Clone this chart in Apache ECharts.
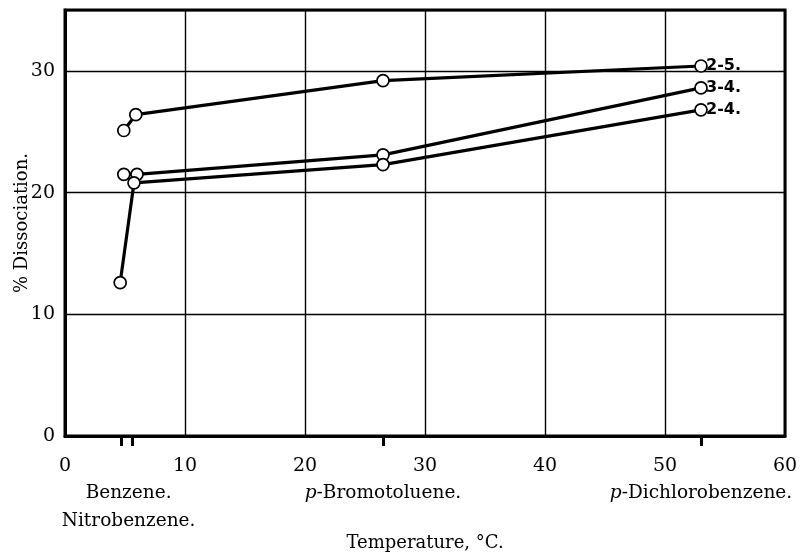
<!DOCTYPE html>
<html>
<head>
<meta charset="utf-8">
<script src="https://cdn.jsdelivr.net/npm/echarts@6/dist/echarts.min.js"></script>
<style>html,body{margin:0;padding:0;background:#fff}#c{width:801px;height:554px}</style>
</head>
<body>
<div id="c"></div>
<script>
// Data
const seriesNames = ['2-5.', '3-4.', '2-4.'];
const xValues25 = [4.9, 5.9, 26.5, 53];
const yValues25 = [25.1, 26.4, 29.2, 30.4];
const xValues34 = [4.9, 6.0, 26.5, 53];
const yValues34 = [21.5, 21.5, 23.1, 28.6];
const xValues24 = [4.6, 5.75, 26.5, 53];
const yValues24 = [12.6, 20.8, 22.3, 26.8];
const xTickLabels = [0, 10, 20, 30, 40, 50, 60];
const yTickLabels = [0, 10, 20, 30];
const solventTicks = [4.7, 5.6, 26.5, 53];
const solventLabelPos = [5.3, 26.5, 53];
const solventNames = ['Benzene.\nNitrobenzene.', '{i|p}-Bromotoluene.', '{i|p}-Dichlorobenzene.'];

const serif = 'DejaVu Serif';
const pairs = (xs, ys) => xs.map((x, i) => [x, ys[i]]);

const chart = echarts.init(document.getElementById('c'), null, {renderer: 'canvas'});
const mkSeries = (name, xs, ys) => ({
  name: name,
  type: 'line',
  data: pairs(xs, ys),
  symbol: 'circle',
  symbolSize: 12,
  showAllSymbol: true,
  lineStyle: {color: '#000', width: 3.2},
  itemStyle: {color: '#fff', borderColor: '#000', borderWidth: 1.7},
  z: 5,
  endLabel: {
    show: true, formatter: name, distance: 5,
    color: '#000', fontFamily: 'DejaVu Sans', fontSize: 16, fontWeight: 'bold'
  },
  emphasis: {disabled: true},
  animation: false
});

chart.setOption({
  animation: false,
  grid: {left: 65, right: 16, top: 10, bottom: 118, outerBoundsMode: 'none', containLabel: false,
    show: true, borderColor: '#000', borderWidth: 3, backgroundColor: 'transparent'},
  xAxis: [{
    type: 'value', min: 0, max: 60, interval: 10,
    position: 'bottom',
    name: 'Temperature, °C.', nameLocation: 'middle', nameGap: 98,
    nameTextStyle: {fontFamily: serif, fontSize: 18, color: '#000'},
    axisLine: {show: true, lineStyle: {color: '#000', width: 3}},
    axisTick: {show: false},
    axisLabel: {
      margin: 21, fontFamily: serif, fontSize: 19, color: '#000',
      customValues: xTickLabels
    },
    splitLine: {show: true, lineStyle: {color: '#000', width: 1.4}}
  }, {
    type: 'value', min: 0, max: 60,
    position: 'bottom',
    axisLine: {show: false},
    axisTick: {show: true, inside: false, length: 10, customValues: solventTicks, lineStyle: {color: '#000', width: 3}},
    axisLabel: {
      customValues: solventLabelPos, margin: 43,
      fontFamily: serif, fontSize: 18.5, color: '#000', lineHeight: 28,
      formatter: function (v) { return solventNames[solventLabelPos.indexOf(v)] || ''; },
      rich: {i: {fontFamily: serif, fontStyle: 'italic', fontSize: 18.5, color: '#000'}}
    },
    splitLine: {show: false}
  }],
  yAxis: {
    type: 'value', min: 0, max: 35, interval: 10,
    name: '% Dissociation.', nameLocation: 'middle', nameGap: 34, nameMoveOverlap: false,
    nameTextStyle: {fontFamily: serif, fontSize: 18, color: '#000'},
    axisLine: {show: true, lineStyle: {color: '#000', width: 3}},
    axisTick: {show: false},
    axisLabel: {margin: 10, fontFamily: serif, fontSize: 19, color: '#000',
      customValues: yTickLabels},
    splitLine: {show: true, lineStyle: {color: '#000', width: 1.4}}
  },
  series: [
    mkSeries(seriesNames[0], xValues25, yValues25),
    mkSeries(seriesNames[1], xValues34, yValues34),
    mkSeries(seriesNames[2], xValues24, yValues24)
  ]
});
</script>
</body>
</html>
